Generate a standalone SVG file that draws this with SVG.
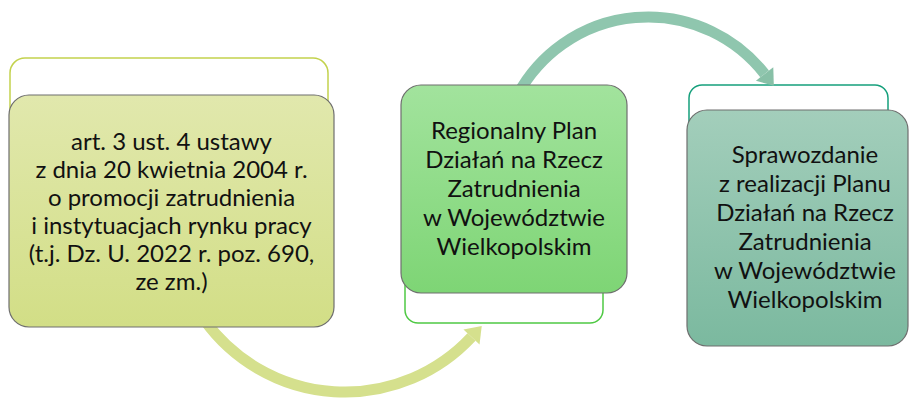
<svg xmlns="http://www.w3.org/2000/svg" width="909" height="399" viewBox="0 0 909 399">
<style>
  .txt { font-family: Lato, "Liberation Sans", "DejaVu Sans", sans-serif; font-size: 24px; fill: #111; text-anchor: middle; }
  .front { stroke: #6e6e6e; stroke-width: 1.2; }
  .back { fill: #ffffff; stroke-width: 1.5; }
  .arc { fill: none; stroke-width: 11; }
</style>
<defs>
  <linearGradient id="g1" x1="0" y1="0" x2="0" y2="1">
    <stop offset="0" stop-color="#e1e8ad"/>
    <stop offset="1" stop-color="#d2de86"/>
  </linearGradient>
  <linearGradient id="g2" x1="0" y1="0" x2="0" y2="1">
    <stop offset="0" stop-color="#a2e39d"/>
    <stop offset="1" stop-color="#7ed575"/>
  </linearGradient>
  <linearGradient id="g3" x1="0" y1="0" x2="0" y2="1">
    <stop offset="0" stop-color="#a3cebb"/>
    <stop offset="1" stop-color="#7bb99f"/>
  </linearGradient>
  <marker id="headA" markerUnits="userSpaceOnUse" viewBox="0 -11 16 22" markerWidth="16" markerHeight="22" refX="0" refY="0" orient="auto" overflow="visible">
    <path d="M0,-11 L15,0 L0,11 z" fill="#d5e08d"/>
  </marker>
  <marker id="headB" markerUnits="userSpaceOnUse" viewBox="0 -11 16 22" markerWidth="16" markerHeight="22" refX="0" refY="0" orient="auto" overflow="visible">
    <path d="M0,-11 L15,0 L0,11 z" fill="#88c0a7"/>
  </marker>
</defs>

<g id="backs">
  <rect id="back1" class="back" x="10" y="58" width="318" height="150" rx="15" stroke="#c3d24d"/>
  <rect id="back2" class="back" x="405" y="170" width="198" height="153" rx="13" stroke="#4fc944"/>
  <rect id="back3" class="back" x="689" y="85" width="199" height="120" rx="13" stroke="#16a07c"/>
</g>

<g id="connectors">
  <path class="arc" stroke="#d5e08d" d="M 204.5 320 A 173 173 0 0 0 471.5 337" marker-end="url(#headA)"/>
  <path class="arc" stroke="#8fc6ae" d="M 517.6 95 A 148 148 0 0 1 764.6 73.9" marker-end="url(#headB)"/>
</g>

<g id="node1">
  <rect class="front" x="9" y="95" width="325" height="232" rx="20" fill="url(#g1)"/>
  <text class="txt" x="171.5" y="150">art. 3 ust. 4 ustawy</text>
  <text class="txt" x="171.5" y="178">z dnia 20 kwietnia 2004 r.</text>
  <text class="txt" x="171.5" y="206">o promocji zatrudnienia</text>
  <text class="txt" x="171.5" y="234">i instytuacjach rynku pracy</text>
  <text class="txt" x="171.5" y="262">(t.j. Dz. U. 2022 r. poz. 690,</text>
  <text class="txt" x="171.5" y="290">ze zm.)</text>
</g>

<g id="node2">
  <rect class="front" x="401" y="85" width="226" height="208" rx="20" fill="url(#g2)"/>
  <text class="txt" x="514" y="139">Regionalny Plan</text>
  <text class="txt" x="514" y="168">Działań na Rzecz</text>
  <text class="txt" x="514" y="197">Zatrudnienia</text>
  <text class="txt" x="514" y="226">w Województwie</text>
  <text class="txt" x="514" y="255">Wielkopolskim</text>
</g>

<g id="node3">
  <rect class="front" x="687" y="110" width="221" height="236" rx="20" fill="url(#g3)"/>
  <text class="txt" x="805" y="163">Sprawozdanie</text>
  <text class="txt" x="805" y="192">z realizacji Planu</text>
  <text class="txt" x="805" y="221">Działań na Rzecz</text>
  <text class="txt" x="805" y="250">Zatrudnienia</text>
  <text class="txt" x="805" y="279">w Województwie</text>
  <text class="txt" x="805" y="308">Wielkopolskim</text>
</g>
</svg>
